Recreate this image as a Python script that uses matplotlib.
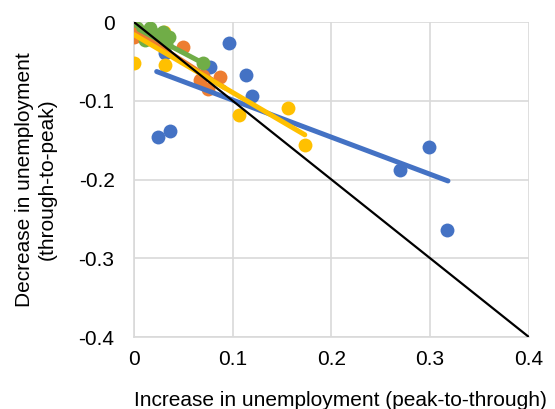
import matplotlib.pyplot as plt
import numpy as np

plt.rcParams['font.family'] = ['Liberation Sans', 'DejaVu Sans']

# scatter data (increase, decrease) per group
blue_x = [0.096, 0.113, 0.120, 0.024, 0.036, 0.269, 0.299, 0.317, 0.031, 0.077]
blue_y = [-0.027, -0.067, -0.094, -0.146, -0.138, -0.188, -0.159, -0.264, -0.039, -0.057]
orange_x = [0.000, 0.050, 0.087, 0.067, 0.075, 0.070, 0.008]
orange_y = [-0.019, -0.032, -0.070, -0.074, -0.085, -0.068, -0.012]
yellow_x = [0.000, 0.031, 0.106, 0.156, 0.173, 0.030, 0.015]
yellow_y = [-0.052, -0.055, -0.118, -0.109, -0.156, -0.012, -0.020]
green_x = [0.003, 0.016, 0.029, 0.035, 0.023, 0.011, 0.070, 0.020, 0.032]
green_y = [-0.008, -0.008, -0.013, -0.019, -0.023, -0.023, -0.052, -0.015, -0.028]

# linear trend lines: (x_start, x_end, slope, intercept)
blue_trend = (0.023, 0.318, -0.471, -0.052)
orange_trend = (0.0, 0.092, -0.80, -0.010)
yellow_trend = (0.0, 0.173, -0.735, -0.016)
green_trend = (0.005, 0.072, -0.66, -0.006)

c_blue = '#4472C4'
c_orange = '#ED7D31'
c_yellow = '#FFC000'
c_green = '#70AD47'

fig = plt.figure(figsize=(5.55, 4.09), dpi=100)
ax = fig.add_axes([0.2414, 0.176, 0.7116, 0.770])

ms = 100
ax.scatter(blue_x, blue_y, s=ms, color=c_blue, zorder=3, linewidths=0)
ax.scatter(orange_x, orange_y, s=ms, color=c_orange, zorder=3, linewidths=0)
ax.scatter(yellow_x, yellow_y, s=ms, color=c_yellow, zorder=3, linewidths=0)
ax.scatter(green_x, green_y, s=ms, color=c_green, zorder=3, linewidths=0)

for tr, c in [(blue_trend, c_blue), (orange_trend, c_orange),
              (yellow_trend, c_yellow), (green_trend, c_green)]:
    xs = np.array([tr[0], tr[1]])
    ax.plot(xs, tr[2] * xs + tr[3], color=c, lw=3.6, solid_capstyle='round', zorder=4)

ax.plot([0, 0.4], [0, -0.4], color='black', lw=1.6, zorder=5)

ax.set_xlim(0, 0.4)
ax.set_ylim(-0.4, 0)
ax.set_xticks([0, 0.1, 0.2, 0.3, 0.4])
ax.set_xticklabels(['0', '0.1', '0.2', '0.3', '0.4'])
ax.set_yticks([0, -0.1, -0.2, -0.3, -0.4])
ax.set_yticklabels(['0', '-0.1', '-0.2', '-0.3', '-0.4'])
ax.grid(True, color='#D9D9D9', lw=1.2, zorder=0)
ax.set_axisbelow(True)
for s in ['top', 'right']:
    ax.spines[s].set_visible(False)
for s in ['left', 'bottom']:
    ax.spines[s].set_color('#D9D9D9')
    ax.spines[s].set_linewidth(1.2)
ax.tick_params(length=0, labelsize=15, colors='black')
ax.tick_params(axis='x', pad=9)
ax.tick_params(axis='y', pad=14)
ax.set_xlabel('Increase in unemployment (peak-to-through)', fontsize=15, labelpad=12)
ax.xaxis.set_label_coords(0.524, -0.17)
ax.set_ylabel('Decrease in unemployment\n(through-to-peak)', fontsize=15, labelpad=16)

fig.savefig('out.png', dpi=100)
